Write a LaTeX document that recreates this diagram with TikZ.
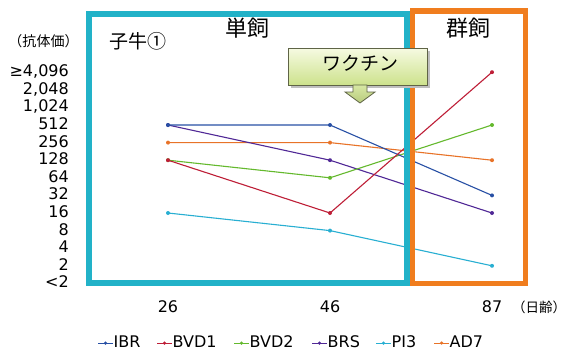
\documentclass[tikz,border=0pt]{standalone}
\usepackage{fontspec}
\usetikzlibrary{calc}
\setmainfont{DejaVu Sans}
\newfontfamily\jp{Noto Sans CJK JP}
\definecolor{cbox}{RGB}{34,178,200}
\definecolor{obox}{RGB}{240,125,30}
\definecolor{cIBR}{RGB}{40,80,165}
\definecolor{cBVDa}{RGB}{190,30,55}
\definecolor{cBVDb}{RGB}{100,185,45}
\definecolor{cBRS}{RGB}{80,40,150}
\definecolor{cPI}{RGB}{40,175,210}
\definecolor{cAD}{RGB}{232,115,40}
\definecolor{calltop}{RGB}{246,250,226}
\definecolor{callbot}{RGB}{205,226,140}
\definecolor{callline}{RGB}{95,100,70}
\tikzset{
  ylab/.style={anchor=east,inner sep=0pt,text depth=0pt,font=\fontsize{16}{16}\selectfont},
  xlab/.style={inner sep=0pt,font=\fontsize{16}{16}\selectfont},
  series/.style={line width=1.1pt},
  dot/.style={circle,fill,inner sep=0pt,minimum size=4pt},
  legtext/.style={anchor=west,inner sep=0pt,font=\fontsize{16}{16}\selectfont},
  jptitle/.style={font=\jp\fontsize{22}{22}\selectfont,inner sep=0pt},
}
\newcommand{\yk}[1]{283.4-17.6*#1}
\begin{document}
\begin{tikzpicture}[x=1pt,y=-1pt]
\useasboundingbox (0,0) rectangle (569,351);
\fill[white] (0,0) rectangle (569,351);
% y labels
\foreach \k/\t in {0/{<2},1/2,2/4,3/8,4/16,5/32,6/64,7/128,8/256,9/512,10/{1,024},11/{2,048},12/{≥4,096}}
  \node[ylab] (yl\k) at (69,{282-17.6*\k}) {\t};
\node[inner sep=0pt,font=\jp\fontsize{14}{14}\selectfont] (unit) at (43.5,41) {（抗体価）};
% x labels
\node[xlab] (x26) at (168,307) {26};
\node[xlab] (x46) at (330,307) {46};
\node[xlab] (x87) at (492,307) {87};
\node[inner sep=0pt,font=\jp\fontsize{13.5}{13.5}\selectfont] (days) at (539,307) {（日齢）};
% data coordinates
\foreach \n/\a/\b/\c in {IBR/9/9/5, BVDa/7/4/12, BVDb/7/6/9, BRS/9/7/4, PI/4/3/1, AD/8/8/7}{
  \coordinate (\n1) at (168,{\yk{\a}});
  \coordinate (\n2) at (330,{\yk{\b}});
  \coordinate (\n3) at (492,{\yk{\c}});
}
\foreach \n in {PI,AD,BRS,BVDb,IBR,BVDa}{
  \draw[series,c\n] (\n1) -- (\n2) -- (\n3);
  \foreach \i in {1,2,3} \node[dot,c\n] at (\n\i) {};
}
% boxes
\draw[cbox,line width=5.5pt] (89,14) rectangle (407,283);
\draw[obox,line width=5.5pt] (412.5,11) rectangle (525.5,283.5);
\node[jptitle] (t1) at (247,28) {単飼};
\node[jptitle] (t2) at (468,28) {群飼};
\node[inner sep=0pt,font=\jp\fontsize{19}{19}\selectfont] (calf) at (138,41) {子牛①};
% callout
\fill[black!25] (290.5,50.5) rectangle (429.5,87.5);
\shade[top color=calltop,bottom color=callbot,draw=callline,line width=0.8pt]
  (288,48) rectangle (427,85);
\node[inner sep=0pt,font=\jp\fontsize{19}{19}\selectfont] (vac) at (360,63) {ワクチン};
\shade[top color=callbot!80!white,bottom color=callbot!90!black,draw=callline,line width=0.8pt]
  (353,85) -- (367,85) -- (367,92) -- (375,92) -- (360,103) -- (345,92) -- (353,92) -- cycle;
% legend
\foreach \n/\lab/\xa in {IBR/IBR/98, BVDa/BVD1/157, BVDb/BVD2/234, BRS/BRS/312, PI/PI3/376, AD/AD7/434}{
  \coordinate (l\n a) at (\xa,343);
  \coordinate (l\n b) at (\xa+15,343);
  \draw[c\n,line width=0.9pt] (l\n a) -- (l\n b);
  \node[dot,c\n,minimum size=3.5pt] at ($(l\n a)!0.5!(l\n b)$) {};
  \node[legtext] (lt\n) at (\xa+15.5,342) {\lab};
}
\end{tikzpicture}
\end{document}
